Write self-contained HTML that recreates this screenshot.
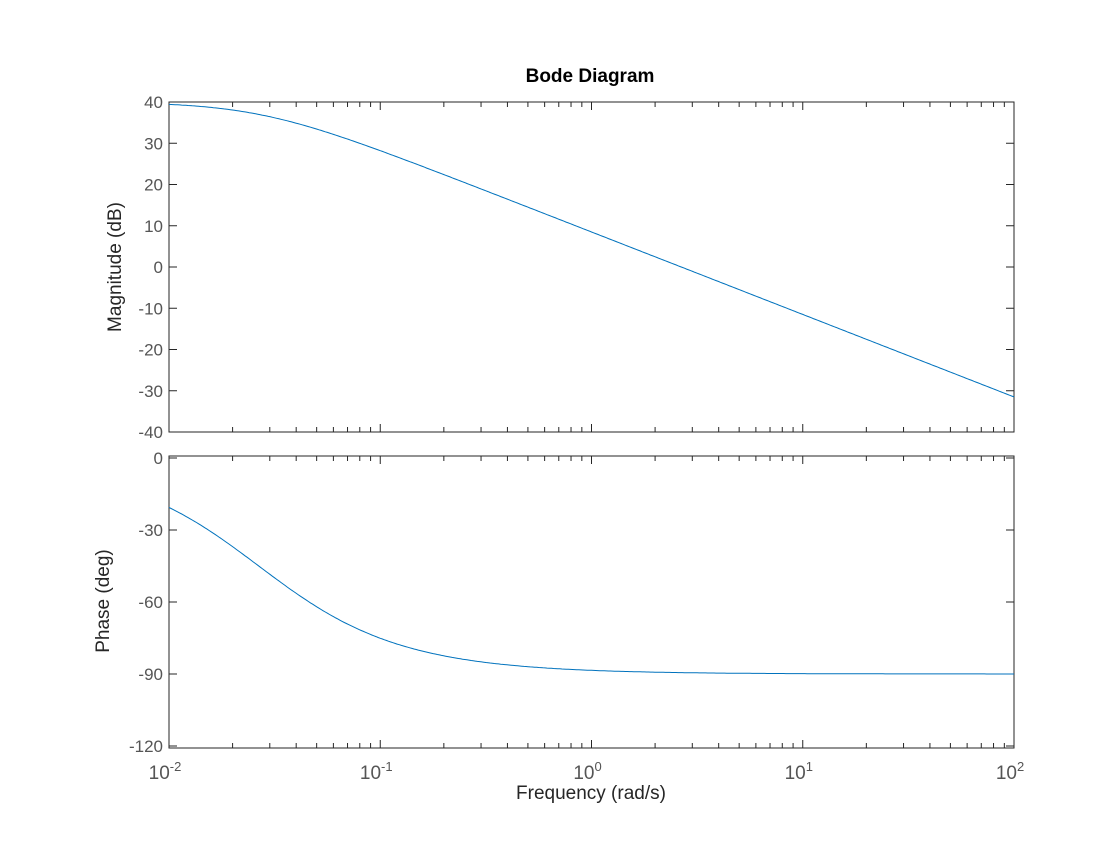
<!DOCTYPE html><html><head><style>body{margin:0;background:#fff}svg{font-family:"Liberation Sans",sans-serif}</style></head><body>
<svg id="s" width="1120" height="840" xmlns="http://www.w3.org/2000/svg">
<rect width="1120" height="840" fill="#fff"/>
<text x="590" y="82" font-size="19" font-weight="bold" text-anchor="middle" fill="#000">Bode Diagram</text>
<g id="g"></g>
<text transform="translate(121,267) rotate(-90)" font-size="19" text-anchor="middle" fill="#262626">Magnitude (dB)</text>
<text transform="translate(109,601) rotate(-90)" font-size="19" text-anchor="middle" fill="#262626">Phase (deg)</text>
<text x="591" y="799" font-size="19" text-anchor="middle" fill="#262626">Frequency  (rad/s)</text>
</svg>
<script>
var L=169,R=1014,D=(R-L)/4,g=document.getElementById('g'),h='';
function X(w){return L+(Math.log10(w)+2)*D}
var T1=102,B1=432,T2=456,B2=748;
function ym(v){return T1+(40-v)*(B1-T1)/80}
function yp(v){return 458+(-v)*2.4}
h+='<rect x="'+L+'" y="'+T1+'" width="'+(R-L)+'" height="'+(B1-T1)+'" fill="none" stroke="#262626" stroke-width="1"/>';
h+='<rect x="'+L+'" y="'+T2+'" width="'+(R-L)+'" height="'+(B2-T2)+'" fill="none" stroke="#262626" stroke-width="1"/>';
for(var d=-2;d<2;d++)for(var k=1;k<10;k++){var x=X(k*Math.pow(10,d));var l=k==1?8:5;
h+='<path d="M'+x+' '+T1+'v'+l+'M'+x+' '+B1+'v-'+l+'M'+x+' '+T2+'v'+l+'M'+x+' '+B2+'v-'+l+'" stroke="#262626"/>';}
for(var v=-40;v<=40;v+=10){var y=ym(v);h+='<path d="M'+L+' '+y+'h8M'+R+' '+y+'h-8" stroke="#262626"/><text x="'+(L-6)+'" y="'+(y+6)+'" font-size="17" text-anchor="end" fill="#555">'+v+'</text>';}
for(var v=0;v>=-120;v-=30){var y=yp(v);h+='<path d="M'+L+' '+y+'h8M'+R+' '+y+'h-8" stroke="#262626"/><text x="'+(L-6)+'" y="'+(y+6)+'" font-size="17" text-anchor="end" fill="#555">'+v+'</text>';}
for(var d=-2;d<=2;d++){var x=X(Math.pow(10,d));h+='<text x="'+(x-4)+'" y="779" font-size="19" text-anchor="middle" fill="#555">10<tspan dy="-8" font-size="13">'+d+'</tspan></text>';}
var K=2.66,a=0.0266,p1='',p2='';
for(var i=0;i<=400;i++){var w=Math.pow(10,-2+4*i/400);var m=20*Math.log10(K/Math.sqrt(w*w+a*a));var ph=-Math.atan(w/a)*180/Math.PI;
p1+=(i?'L':'M')+X(w).toFixed(1)+' '+ym(m).toFixed(1);p2+=(i?'L':'M')+X(w).toFixed(1)+' '+yp(ph).toFixed(1);}
h+='<path d="'+p1+'" fill="none" stroke="#0072bd" stroke-width="1"/><path d="'+p2+'" fill="none" stroke="#0072bd" stroke-width="1"/>';
g.innerHTML=h;
</script></body></html>
